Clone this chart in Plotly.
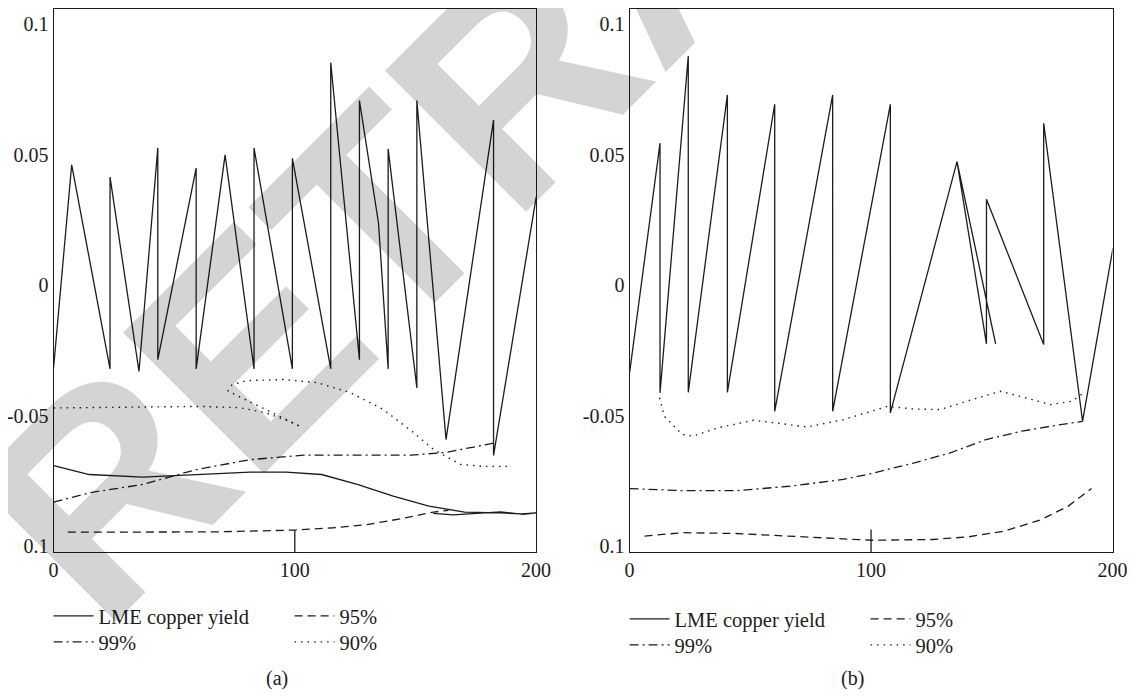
import plotly.graph_objects as go

# ---------------- data: panel (a) ----------------
a_yield_x = [0, 7.5, 23.4, 23.4, 35.4, 43.2, 43.2, 59.1, 59.1, 71.1, 83.1, 83.1, 99.0, 99.0,
             114.9, 114.9, 126.8, 126.8, 134.7, 138.7, 138.7, 150.6, 150.6, 162.7, 182.4, 182.4, 200.1]
a_yield_y = [-0.0315, 0.0462, -0.0320, 0.0415, -0.0330, 0.0526, -0.0285, 0.0449, -0.0320, 0.0500,
             -0.0320, 0.0526, -0.0320, 0.0487, -0.0320, 0.0853, -0.0285, 0.0708, 0.0239, -0.0320,
             0.0523, -0.0393, 0.0708, -0.0591, 0.0634, -0.0652, 0.0339]

a_smooth_x = [0, 14.8, 37.0, 59.2, 81.5, 96.3, 111.1, 125.9, 140.8, 155.6, 170.4, 185.2, 194.1, 200.0,
              194.7, 185.2, 175.5, 165.7, 157.4]
a_smooth_y = [-0.0691, -0.0725, -0.0735, -0.0725, -0.0716, -0.0716, -0.0725, -0.0763, -0.0808, -0.0846,
              -0.0869, -0.0872, -0.0876, -0.0872, -0.0878, -0.0868, -0.0874, -0.0880, -0.0874]

a_95_x = [5.9, 37.0, 66.5, 100.0, 116.0, 129.9, 143.7, 157.5, 163.7]
a_95_y = [-0.0946, -0.0946, -0.0945, -0.0938, -0.0929, -0.0917, -0.0895, -0.0869, -0.0862]

a_99_x = [0, 14.8, 37.0, 59.2, 81.5, 103.7, 125.9, 148.1, 162.8, 182.9]
a_99_y = [-0.0831, -0.0795, -0.0763, -0.0706, -0.0668, -0.0651, -0.0651, -0.0651, -0.0640, -0.0604]

a_90_x = [0, 19.2, 40.0, 60.7, 77.3, 87.7, 96.0, 102.6, 93.9, 83.5, 75.3, 72.3, 74.0, 80.2, 95.2,
          109.3, 123.0, 136.7, 149.2, 157.5, 168.6, 178.2, 189.4]
a_90_y = [-0.0470, -0.0469, -0.0467, -0.0464, -0.0469, -0.0488, -0.0515, -0.0542, -0.0503, -0.0457,
          -0.0419, -0.0404, -0.0381, -0.0365, -0.0361, -0.0373, -0.0411, -0.0476, -0.0564, -0.0629,
          -0.0686, -0.0694, -0.0694]

a_mark_x = [100, 100]
a_mark_y = [-0.1022, -0.0938]

# ---------------- data: panel (b) ----------------
b_yield_x = [0, 12.6, 12.6, 24.3, 24.3, 40.5, 40.5, 60.1, 60.1, 84.1, 84.1, 108.0, 108.0, 135.6,
             151.6, 135.6, 147.8, 147.8, 171.5, 171.5, 187.6, 200.2]
b_yield_y = [-0.0335, 0.0545, -0.0412, 0.0879, -0.0410, 0.0730, -0.0410, 0.0694, -0.0483, 0.0730,
             -0.0483, 0.0694, -0.0489, 0.0474, -0.0224, 0.0474, -0.0224, 0.0330, -0.0227, 0.0621,
             -0.0521, 0.0143]

b_95_x = [6.2, 21.8, 44.0, 66.2, 88.4, 100.3, 125.4, 140.3, 155.1, 169.9, 181.7, 191.3]
b_95_y = [-0.0961, -0.0948, -0.0951, -0.0961, -0.0971, -0.0977, -0.0974, -0.0964, -0.0942, -0.0900,
          -0.0846, -0.0779]

b_99_x = [0, 21.8, 44.0, 66.2, 88.4, 100.3, 118.0, 132.8, 147.6, 162.4, 174.3, 187.6]
b_99_y = [-0.0779, -0.0787, -0.0787, -0.0770, -0.0744, -0.0721, -0.0680, -0.0642, -0.0591, -0.0559,
          -0.0540, -0.0521]

b_90_x = [12.4, 14.4, 21.8, 26.2, 36.6, 51.4, 66.2, 73.5, 88.4, 106.7, 118.0, 128.7, 143.2, 153.6,
          166.8, 174.3, 183.2, 188.4]
b_90_y = [-0.0431, -0.0502, -0.0572, -0.0578, -0.0546, -0.0517, -0.0534, -0.0543, -0.0515, -0.0464,
          -0.0474, -0.0476, -0.0434, -0.0406, -0.0438, -0.0457, -0.0444, -0.0410]

b_mark_x = [100, 100]
b_mark_y = [-0.1022, -0.0936]

x_ticks = [0, 100, 200]
x_tick_text = ["0", "100", "200"]
y_ticks = [0.1, 0.05, 0, -0.05, -0.1]
y_tick_text = ["0.1", "0.05", "0", "-0.05", "0.1"]
names = ["LME copper yield", "95%", "99%", "90%"]
captions = ["(a)", "(b)"]
watermark = "RETRACTED"

# ---------------- figure ----------------
INK = "#1e1b1c"
SERIF = "Liberation Serif"
# the page body has an 8px margin; the figure fills the rest of the 1135x699 window
OFF = 8
W, H = 1135 - 2 * OFF, 699 - 2 * OFF

fig = go.Figure()


def add_panel(xa, ya, yx, yy, d95x, d95y, d99x, d99y, d90x, d90y, mx, my, leg1, leg2, smooth=None):
    fig.add_trace(go.Scatter(x=yx, y=yy, mode="lines", name=names[0], xaxis=xa, yaxis=ya,
                             line=dict(color=INK, width=1.3), legend=leg1))
    fig.add_trace(go.Scatter(x=d95x, y=d95y, mode="lines", name=names[1], xaxis=xa, yaxis=ya,
                             line=dict(color=INK, width=1.3, dash="8px,5px"), legend=leg1))
    fig.add_trace(go.Scatter(x=d99x, y=d99y, mode="lines", name=names[2], xaxis=xa, yaxis=ya,
                             line=dict(color=INK, width=1.3, dash="9px,4px,2px,4px"), legend=leg2))
    fig.add_trace(go.Scatter(x=d90x, y=d90y, mode="lines", name=names[3], xaxis=xa, yaxis=ya,
                             line=dict(color=INK, width=1.4, dash="1.5px,5px"), legend=leg2))
    if smooth is not None:
        fig.add_trace(go.Scatter(x=smooth[0], y=smooth[1], mode="lines", showlegend=False,
                                 xaxis=xa, yaxis=ya, line=dict(color=INK, width=1.3)))
    fig.add_trace(go.Scatter(x=mx, y=my, mode="lines", showlegend=False, xaxis=xa, yaxis=ya,
                             line=dict(color=INK, width=1.3)))


add_panel("x", "y", a_yield_x, a_yield_y, a_95_x, a_95_y, a_99_x, a_99_y, a_90_x, a_90_y,
          a_mark_x, a_mark_y, "legend", "legend2", smooth=(a_smooth_x, a_smooth_y))
add_panel("x2", "y2", b_yield_x, b_yield_y, b_95_x, b_95_y, b_99_x, b_99_y, b_90_x, b_90_y,
          b_mark_x, b_mark_y, "legend3", "legend4")


def lx(px):
    return (px - OFF) / W


def ly(py):
    return 1 - (py - OFF) / H


ydom = [ly(552), ly(9.3)]
axis_common = dict(showline=True, mirror=True, linecolor=INK, linewidth=1.2, showgrid=False,
                   zeroline=False, ticks="outside", tickcolor="rgba(0,0,0,0)",
                   ticklabeloverflow="allow",
                   tickfont=dict(family=SERIF, size=20, color=INK))

xa_common = dict(axis_common, range=[0, 200], tickvals=x_ticks, ticktext=x_tick_text, ticklen=0)
ya_common = dict(axis_common, range=[-0.1022, 0.1058], tickvals=y_ticks, ticktext=y_tick_text,
                 ticklen=0)

leg_common = dict(orientation="h", entrywidth=186, entrywidthmode="pixels", xanchor="left",
                  yanchor="middle", bgcolor="rgba(0,0,0,0)", borderwidth=0,
                  font=dict(family=SERIF, size=20.5, color=INK), itemwidth=40)

fig.update_layout(
    width=W, height=H, margin=dict(l=0, r=0, t=0, b=0, autoexpand=False),
    paper_bgcolor="white", plot_bgcolor="white",
    xaxis=dict(xa_common, domain=[lx(53.6), lx(536)], anchor="y"),
    yaxis=dict(ya_common, domain=ydom, anchor="x"),
    xaxis2=dict(xa_common, domain=[lx(629.6), lx(1112.5)], anchor="y2"),
    yaxis2=dict(ya_common, domain=ydom, anchor="x2"),
    legend=dict(leg_common, x=lx(48.6), y=ly(616)),
    legend2=dict(leg_common, x=lx(48.6), y=ly(642)),
    legend3=dict(leg_common, x=lx(624.6), y=ly(619)),
    legend4=dict(leg_common, x=lx(624.6), y=ly(645)),
    showlegend=True,
)

# watermark
fig.add_annotation(text="<b>" + watermark + "</b>", xref="paper", yref="paper", x=lx(663), y=ly(-68),
                   xanchor="center", yanchor="middle", showarrow=False, textangle=-45,
                   font=dict(family="Liberation Sans", size=290, color="rgba(0,0,0,0.17)"))

# captions
fig.add_annotation(text=captions[0], xref="paper", yref="paper", x=lx(277), y=ly(678),
                   xanchor="center", yanchor="middle",
                   showarrow=False, font=dict(family=SERIF, size=20, color=INK))
fig.add_annotation(text=captions[1], xref="paper", yref="paper", x=lx(852), y=ly(678),
                   xanchor="center", yanchor="middle",
                   showarrow=False, font=dict(family=SERIF, size=20, color=INK))

fig.write_html("out.html")
